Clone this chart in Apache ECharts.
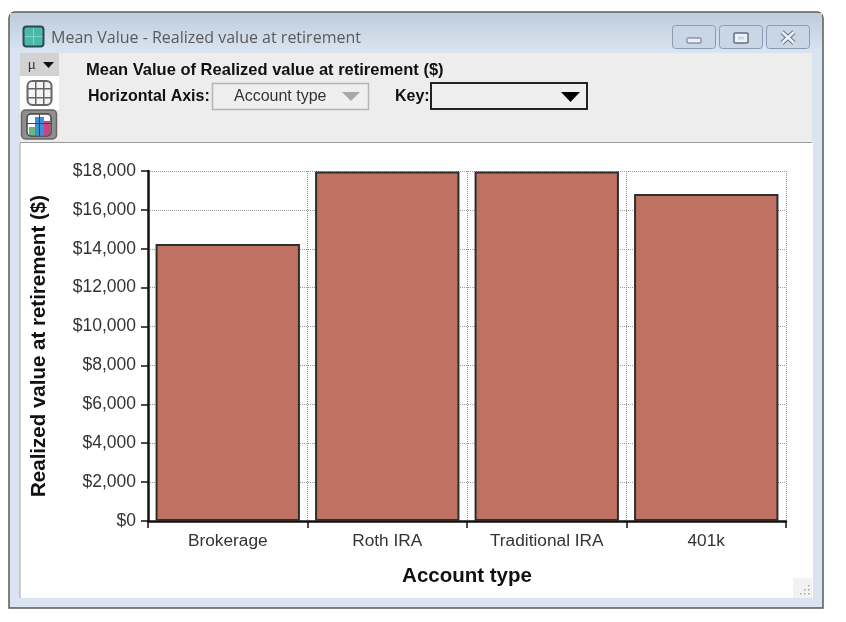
<!DOCTYPE html>
<html>
<head>
<meta charset="utf-8">
<title>Mean Value - Realized value at retirement</title>
<script src="https://cdn.jsdelivr.net/npm/echarts@6/dist/echarts.min.js"></script>
<style>
  html, body { margin: 0; padding: 0; background: #fff; }
  #chart { width: 846px; height: 622px; }
</style>
</head>
<body>
<div id="chart"></div>
<script>
const accountTypes = ["Brokerage", "Roth IRA", "Traditional IRA", "401k"];
const realizedValues = [14250, 17980, 17980, 16820];

const FONT = '"Liberation Sans", Arial, sans-serif';

function box(x, y, width, height, fill, stroke, lineWidth, r) {
  return {
    type: "rect",
    z: -5,
    silent: true,
    shape: { x, y, width, height, r: r || 0 },
    style: { fill: fill || "transparent", stroke: stroke || null, lineWidth: lineWidth || 0 },
  };
}

function label(x, y, text, font, fill, align) {
  return {
    type: "text",
    z: -4,
    silent: true,
    style: { x, y, text, font, fill: fill || "#111", align: align || "left", verticalAlign: "middle" },
  };
}

function triangle(x, y, width, height, fill) {
  return {
    type: "polygon",
    z: -4,
    silent: true,
    shape: { points: [[x, y], [x + width, y], [x + width / 2, y + height]] },
    style: { fill },
  };
}

function stroke(x1, y1, x2, y2, color, lineWidth) {
  return {
    type: "line",
    z: -4,
    silent: true,
    shape: { x1, y1, x2, y2 },
    style: { stroke: color, lineWidth },
  };
}

function windowChrome() {
  const titleGradient = new echarts.graphic.LinearGradient(0, 0, 0, 1, [
    { offset: 0, color: "#c0cedd" },
    { offset: 0.08, color: "#c0cedd" },
    { offset: 1, color: "#dbe5f2" },
  ]);
  const buttonFill = "#c9d6e5";
  const buttonEdge = "#8a9bb3";
  return [
    box(9, 12, 814, 596, "#dae4f1", "#5a5a5a", 1.5, [6, 6, 0, 0]),
    box(10, 13, 812, 40, titleGradient),
    box(23.5, 26.5, 20, 20, "#4cb8a8", "#2b4a55", 2, 3),
    box(33, 28, 1, 17, "#7fd4c8"),
    box(25, 36, 17, 1, "#7fd4c8"),
    label(51, 38, "Mean Value - Realized value at retirement", '16px "Open Sans", sans-serif', "#5a5a5a"),

    box(672.5, 25.5, 43, 23, buttonFill, buttonEdge, 1, 3),
    box(719.5, 25.5, 43, 23, buttonFill, buttonEdge, 1, 3),
    box(766.5, 25.5, 43, 23, buttonFill, buttonEdge, 1, 3),
    box(687, 38, 14, 5, "#eef2f6", "#5f6f85", 1, 1),
    box(734, 33, 14, 10, "#eef2f6", "#5f6f85", 1.5, 1),
    box(738, 36.5, 6, 3, buttonFill),
    stroke(782, 32, 794, 43, "#66758a", 4.5),
    stroke(794, 32, 782, 43, "#66758a", 4.5),
    stroke(782, 32, 794, 43, "#eef2f6", 2.5),
    stroke(794, 32, 782, 43, "#eef2f6", 2.5),

    box(20, 53, 792, 89, "#ededed"),
    box(20, 142, 792, 1, "#9a9a9a"),
    box(20, 143, 793, 455, "#ffffff"),
    box(19.5, 143, 1, 455, "#a5a5a5"),

    box(20, 53, 39, 23, "#d2d2d2"),
    label(28, 65, "µ", "13px " + FONT, "#333"),
    triangle(43, 62, 11, 6, "#111"),
    box(20, 76, 39, 34, "#ffffff"),
    box(27.5, 81, 24, 24, "#f4f4f4", "#666", 2, 5),
    box(35, 81, 1.5, 24, "#666"),
    box(43, 81, 1.5, 24, "#666"),
    box(27.5, 88, 24, 1.5, "#666"),
    box(27.5, 97, 24, 1.5, "#666"),
    box(21.5, 110, 35, 29, "#8f8f8f", "#666", 1.5, 4),
    box(27, 114, 24, 22, "#ffffff", "#444", 1.5, 4),
    box(35, 117, 9, 18, "#3c8fd0"),
    box(44, 121, 6, 14, "#cf3f86"),
    box(29, 127, 6, 8, "#67bb7a"),
    box(27, 123, 24, 1, "#444"),
    box(39, 114, 1, 22, "#444"),

    label(86, 70, "Mean Value of Realized value at retirement ($)", "bold 16.5px " + FONT, "#111"),
    label(88, 97, "Horizontal Axis:", "bold 16px " + FONT, "#111"),
    box(212.5, 83.5, 156, 26, "#efefef", "#b5b5b5", 1.5),
    label(234, 97, "Account type", "16px " + FONT, "#333"),
    triangle(342, 92, 18, 9, "#a9a9a9"),
    label(395, 97, "Key:", "bold 16px " + FONT, "#111"),
    box(431, 83, 156, 26, "#efefef", "#222", 2),
    triangle(561, 92, 19, 10, "#000"),

    box(793, 578, 19, 20, "#f2f2f2"),
    box(808, 585, 1.5, 1.5, "#a5a5a5"),
    box(804, 589, 1.5, 1.5, "#a5a5a5"),
    box(808, 589, 1.5, 1.5, "#a5a5a5"),
    box(800, 593, 1.5, 1.5, "#a5a5a5"),
    box(804, 593, 1.5, 1.5, "#a5a5a5"),
    box(808, 593, 1.5, 1.5, "#a5a5a5"),
  ];
}

const chart = echarts.init(document.getElementById("chart"), null, { width: 846, height: 622 });

chart.setOption({
  animation: false,
  backgroundColor: "#ffffff",
  graphic: { elements: windowChrome() },
  grid: { left: 148, right: 60, top: 171, bottom: 101, containLabel: false },
  xAxis: {
    type: "category",
    data: accountTypes,
    name: "Account type",
    nameLocation: "middle",
    nameGap: 45,
    nameTextStyle: { fontFamily: FONT, fontWeight: "bold", fontSize: 20.5, color: "#111" },
    axisLine: { lineStyle: { color: "#111", width: 2.5 } },
    axisTick: { show: true, length: 7, lineStyle: { color: "#111", width: 1.5 } },
    axisLabel: { fontFamily: FONT, fontSize: 17.3, color: "#333", margin: 12 },
    splitLine: { show: true, lineStyle: { color: "#9a9a9a", type: "dotted", width: 1 } },
  },
  yAxis: {
    type: "value",
    min: 0,
    max: 18000,
    interval: 2000,
    name: "Realized value at retirement ($)",
    nameLocation: "middle",
    nameGap: 98,
    nameTextStyle: { fontFamily: FONT, fontWeight: "bold", fontSize: 20.5, color: "#111" },
    axisLine: { show: true, lineStyle: { color: "#111", width: 2.5 } },
    axisTick: { show: true, length: 7, lineStyle: { color: "#111", width: 1.5 } },
    axisLabel: {
      fontFamily: FONT,
      fontSize: 17.5,
      color: "#333",
      margin: 12,
      formatter: (value) => "$" + value.toLocaleString("en-US"),
    },
    splitLine: { show: true, lineStyle: { color: "#9a9a9a", type: "dotted", width: 1 } },
  },
  series: [
    {
      type: "bar",
      data: realizedValues,
      barWidth: "90.5%",
      itemStyle: { color: "#bf7262", borderColor: "#2e2e2e", borderWidth: 2 },
    },
  ],
});
</script>
</body>
</html>
